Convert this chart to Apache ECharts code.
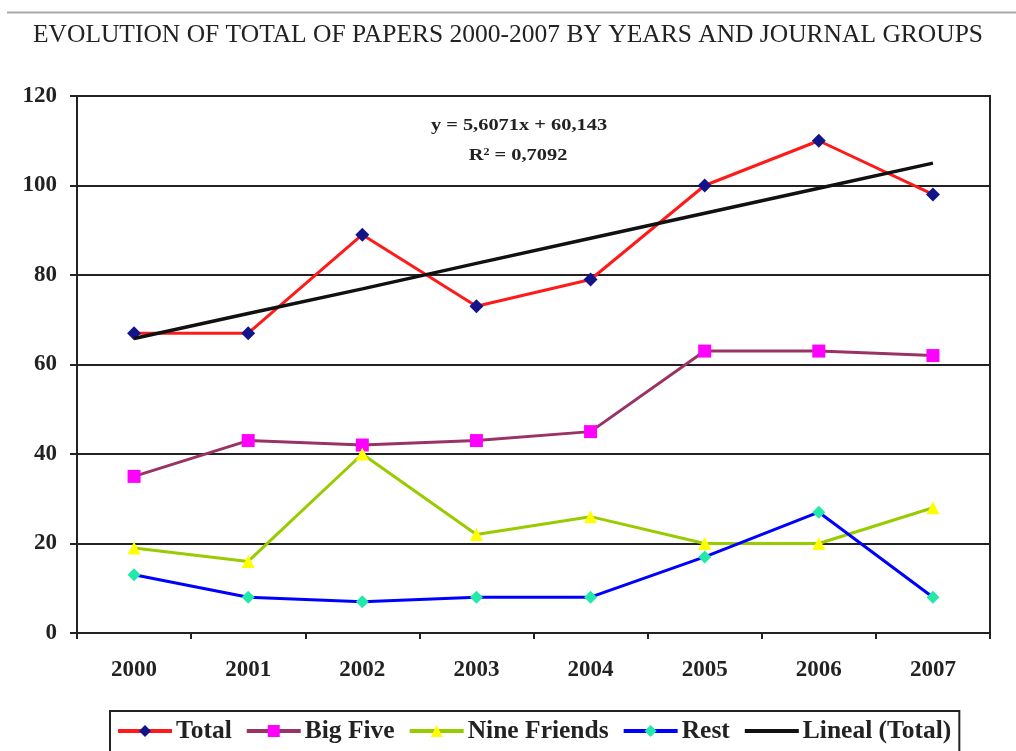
<!DOCTYPE html>
<html><head><meta charset="utf-8">
<script src="https://cdn.jsdelivr.net/npm/echarts@6/dist/echarts.min.js"></script>
<style>html,body{margin:0;padding:0;background:#fff}#c{width:1016px;height:751px}</style>
</head><body><div id="c"></div>
<script>
var years = ['2000','2001','2002','2003','2004','2005','2006','2007'];
var total = [67, 67, 89, 73, 79, 100, 110, 98];
var bigFive = [35, 43, 42, 43, 45, 63, 63, 62];
var nineFriends = [19, 16, 40, 22, 26, 20, 20, 28];
var rest = [13, 8, 7, 8, 8, 17, 27, 8];
var lineal = [65.8, 71.4, 76.9, 82.6, 88.2, 93.8, 99.4, 105.0];
var yTicks = {min: 0, max: 120, interval: 20};
var titleText = 'EVOLUTION OF TOTAL OF PAPERS 2000-2007 BY YEARS AND JOURNAL GROUPS';
var eqLine1 = 'y = 5,6071x + 60,143';
var eqLine2 = '0,7092';

var serif = '"Liberation Serif", "DejaVu Serif", serif';
var chart = echarts.init(document.getElementById('c'), null, {renderer: 'canvas'});
function lineSeries(name, data, lineColor, sym, symColor, symSize) {
  return {
    name: name, type: 'line', data: data,
    symbol: sym, symbolSize: symSize, showAllSymbol: true,
    lineStyle: {color: lineColor, width: 3},
    itemStyle: {color: symColor, borderWidth: 0},
    emphasis: {disabled: true}, z: 3
  };
}
chart.setOption({
  animation: false,
  title: {
    text: titleText, left: 'center', top: 17,
    textStyle: {fontFamily: serif, fontWeight: 'normal', fontSize: 25.5, color: '#222'}
  },
  grid: {left: 77, right: 26, top: 96, bottom: 118, show: true, borderColor: '#222', borderWidth: 2, backgroundColor: 'transparent'},
  legend: {
    left: 110, top: 711, width: 847,
    padding: [7, 8, 40, 6],
    borderColor: '#222', borderWidth: 2,
    itemWidth: 54, itemHeight: 15, itemGap: 13,
    lineStyle: {width: 4},
    textStyle: {fontFamily: serif, fontWeight: 'bold', fontSize: 25.5, color: '#222', padding: [0, 0, 0, -1]},
    data: ['Total', 'Big Five', 'Nine Friends', 'Rest', {name: 'Lineal (Total)', itemStyle: {opacity: 0}}]
  },
  xAxis: {
    type: 'category', data: years, boundaryGap: true,
    axisLine: {lineStyle: {color: '#222', width: 2}},
    axisTick: {show: true, inside: false, length: 6, lineStyle: {color: '#222', width: 2}},
    axisLabel: {fontFamily: serif, fontWeight: 'bold', fontSize: 23, color: '#222', margin: 26}
  },
  yAxis: {
    type: 'value', min: yTicks.min, max: yTicks.max, interval: yTicks.interval,
    axisLine: {show: true, lineStyle: {color: '#222', width: 2}},
    axisTick: {show: true, length: 7, lineStyle: {color: '#222', width: 2}},
    axisLabel: {fontFamily: serif, fontWeight: 'bold', fontSize: 23, color: '#222', margin: 20},
    splitLine: {lineStyle: {color: '#222', width: 2}}
  },
  series: [
    lineSeries('Total', total, '#ff1a1a', 'diamond', '#14148a', 14),
    lineSeries('Big Five', bigFive, '#993366', 'rect', '#ff00ff', 13),
    lineSeries('Nine Friends', nineFriends, '#99cc00', 'triangle', '#ffff00', 13),
    lineSeries('Rest', rest, '#0000ff', 'diamond', '#22e8aa', 13),
    {
      name: 'Lineal (Total)', type: 'line', data: lineal, symbol: 'none',
      lineStyle: {color: '#111', width: 3.5}, itemStyle: {color: '#111'}, z: 4, emphasis: {disabled: true}
    }
  ],
  graphic: [
    {type: 'line', shape: {x1: 7, y1: 12.5, x2: 1016, y2: 12.5}, style: {stroke: '#aaa', lineWidth: 2}},
    {type: 'text', x: 519, y: 126, scaleX: 1.2, style: {text: eqLine1, fontFamily: serif, fontWeight: 'bold', fontSize: 17, fill: '#222', align: 'center', verticalAlign: 'middle'}},
    {type: 'text', x: 518, y: 156, scaleX: 1.2, style: {
      text: '{r|R}{s|2}{r| = ' + eqLine2 + '}',
      align: 'center', verticalAlign: 'middle',
      rich: {
        r: {fontFamily: serif, fontWeight: 'bold', fontSize: 17, fill: '#222', color: '#222'},
        s: {fontFamily: serif, fontWeight: 'bold', fontSize: 10, fill: '#222', color: '#222', verticalAlign: 'top', padding: [0, 0, 8, 0]}
      }
    }}
  ]
});
</script></body></html>
